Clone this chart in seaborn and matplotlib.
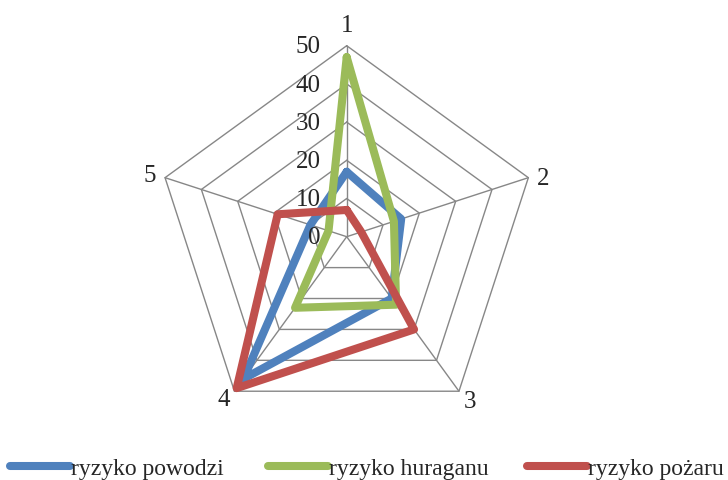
import numpy as np
import pandas as pd
import matplotlib
matplotlib.use('Agg')
import matplotlib.pyplot as plt
import seaborn as sns

axis_labels = ['1', '2', '3', '4', '5']
series_names = ['ryzyko powodzi', 'ryzyko huraganu', 'ryzyko pożaru']
flood = [17, 15, 20, 46, 10]
hurricane = [47, 13, 22, 23, 5]
fire = [7, 4, 30, 49, 19]
radial_ticks = [0, 10, 20, 30, 40, 50]
colors = ['#4F81BD', '#9BBB59', '#C0504D']

sns.set_style('white')
plt.rcParams['font.family'] = ['Liberation Serif', 'DejaVu Serif']

fig = plt.figure(figsize=(7.28, 4.8), dpi=100)
cx, cy, R = 346.7, 236.7, 191.0
ax = fig.add_axes([(cx - R) / 728, (480 - cy - R) / 480, 2 * R / 728, 2 * R / 480],
                  projection='polar')
ax.set_theta_offset(np.pi / 2)
ax.set_theta_direction(-1)
ax.set_ylim(0, radial_ticks[-1])
ax.grid(False)
ax.spines['polar'].set_visible(False)
ax.set_xticks([])
ax.set_yticks([])
ax.patch.set_alpha(0)

n = len(axis_labels)
theta = np.arange(n) * 2 * np.pi / n
theta_closed = np.append(theta, 2 * np.pi)

grid_color = '#878787'
for v in radial_ticks[1:]:
    ax.plot(theta_closed, [v] * (n + 1), color=grid_color, lw=1.0, clip_on=False, zorder=1)
for t in theta:
    ax.plot([t, t], [0, radial_ticks[-1]], color=grid_color, lw=1.0, clip_on=False, zorder=1)

rows = []
for name, vals in zip(series_names, [flood, hurricane, fire]):
    vv = list(vals) + [vals[0]]
    for t, v in zip(theta_closed, vv):
        rows.append({'theta': t, 'value': v, 'series': name})
df = pd.DataFrame(rows)

sns.lineplot(data=df, x='theta', y='value', hue='series', hue_order=series_names,
             palette=colors, sort=False, estimator=None, lw=5.8, ax=ax, legend=False)
for ln in ax.lines[-3:]:
    ln.set_clip_on(False)
    ln.set_zorder(3)
ax.set_xlabel('')
ax.set_ylabel('')
ax.set_xticks([])
ax.set_yticks([])
ax.set_ylim(0, radial_ticks[-1])

fs = 18
for v in radial_ticks:
    ax.annotate(str(v), xy=(0, v), xytext=(-18.7, -1.2), textcoords='offset points',
                ha='right', va='center', fontsize=fs, annotation_clip=False)

offsets = [(0, 14.4), (10.8, -1.3), (8.3, -7.6), (-7.7, -6.3), (-10.8, 0.9)]
for t, lab, off in zip(theta, axis_labels, offsets):
    ax.annotate(lab, xy=(t, radial_ticks[-1]), xytext=off, textcoords='offset points',
                ha='center', va='center', fontsize=fs, annotation_clip=False)

legend_x = [10, 268, 527]
lfs = 17
for name, c, x0 in zip(series_names, colors, legend_x):
    h = plt.Line2D([], [], color=c, lw=5.8, solid_capstyle='round')
    fig.legend([h], [name], loc='center left',
               bbox_to_anchor=((x0 - 0.3 * lfs * 100 / 72 * 0.0) / 728, 1 - 469 / 480),
               frameon=False, handlelength=60 / (lfs * 100 / 72), handletextpad=0.05,
               borderaxespad=0, borderpad=0, fontsize=lfs)

fig.savefig('out.png', dpi=100)
